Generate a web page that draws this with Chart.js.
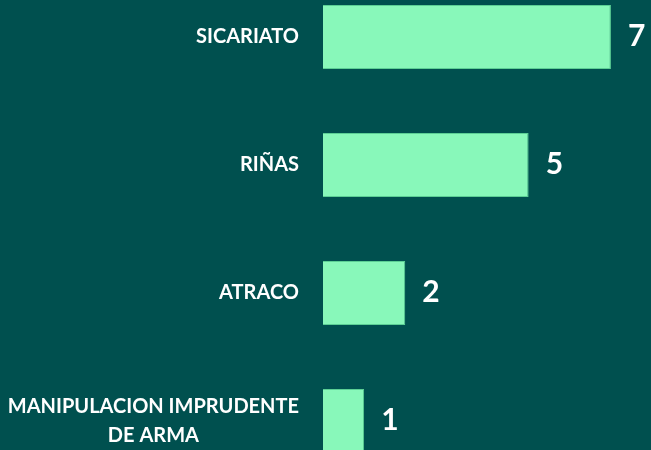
<!DOCTYPE html>
<html>
<head>
<meta charset="utf-8">
<script src="https://cdn.jsdelivr.net/npm/chart.js@4.4.0/dist/chart.umd.min.js"></script>
<style>
  html, body { margin: 0; padding: 0; background: #00504f; overflow: hidden; width: 651px; height: 450px; }
  #wrap { position: absolute; left: 0; top: -27px; width: 660px; height: 512px; }
</style>
</head>
<body>
<div id="wrap"><canvas id="delitos"></canvas></div>
<script>
const categories = ['SICARIATO', 'RIÑAS', 'ATRACO', ['MANIPULACION IMPRUDENTE', 'DE ARMA']];
const casos = [7, 5, 2, 1];

// draws category names (right-aligned block, centred lines) and value labels
const labelPlugin = {
  id: 'labelPlugin',
  afterDatasetsDraw(chart) {
    const ctx = chart.ctx;
    const y = chart.scales.y;
    const x = chart.scales.x;
    ctx.save();
    ctx.fillStyle = '#ffffff';
    ctx.textBaseline = 'middle';
    categories.forEach((cat, i) => {
      const lines = Array.isArray(cat) ? cat : [cat];
      ctx.font = 'bold 20px Lato';
      const maxW = Math.max(...lines.map(l => ctx.measureText(l).width));
      const cx = 299 - maxW / 2;
      const cy = y.getPixelForValue(i);
      const lh = 29;
      ctx.textAlign = 'center';
      lines.forEach((l, j) => {
        ctx.fillText(l, cx, cy + (j - (lines.length - 1) / 2) * lh);
      });
      ctx.font = 'bold 30px Lato';
      ctx.textAlign = 'left';
      ctx.fillText(String(casos[i]), x.getPixelForValue(casos[i]) + 17, cy - 1);
    });
    ctx.restore();
  }
};

new Chart(document.getElementById('delitos'), {
  type: 'bar',
  data: {
    labels: categories,
    datasets: [{
      data: casos,
      backgroundColor: '#88f8ba',
      borderColor: '#5ccf95',
      borderWidth: 1,
      barPercentage: 0.5,
      categoryPercentage: 1
    }]
  },
  options: {
    indexAxis: 'y',
    responsive: true,
    maintainAspectRatio: false,
    animation: false,
    layout: { padding: { left: 323, right: 8, top: 0, bottom: 0 } },
    plugins: { legend: { display: false }, tooltip: { enabled: false } },
    scales: {
      x: { min: 0, max: 8, display: false },
      y: { display: false }
    }
  },
  plugins: [labelPlugin]
});
</script>
</body>
</html>
